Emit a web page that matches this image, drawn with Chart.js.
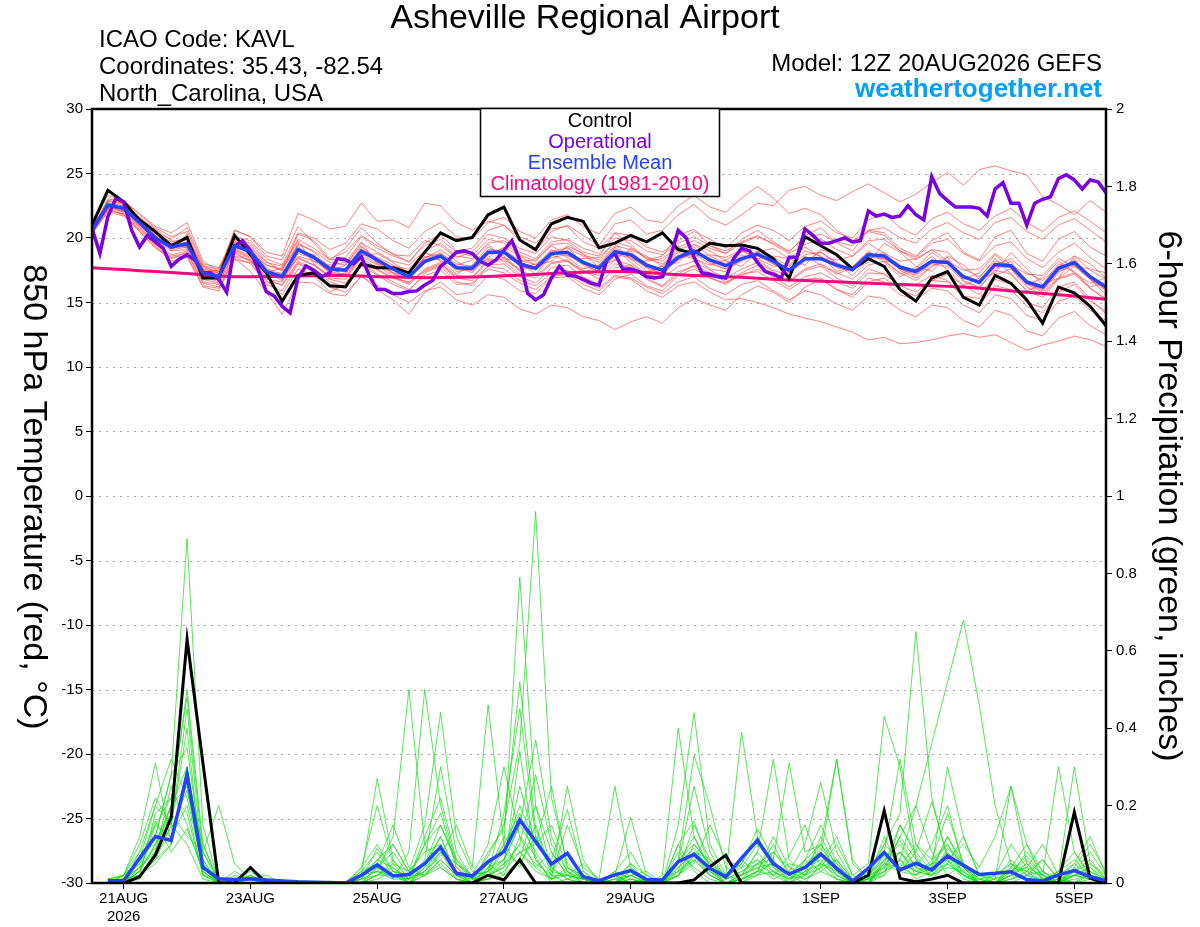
<!DOCTYPE html>
<html lang="en">
<head>
<meta charset="UTF-8">
<title>Asheville Regional Airport - GEFS 850 hPa Temperature</title>
<script src="https://cdn.jsdelivr.net/npm/chart.js"></script>
<style>
    html, body { margin: 0; padding: 0; background: #ffffff; }
    #wrap { width: 1200px; height: 927px; }
</style>
</head>
<body>
<div id="wrap"><canvas id="gefsChart" width="1200" height="927"></canvas></div>
<script>
// forecast hours after 12Z 20AUG2026 (6-hourly ensemble, 3-hourly operational)
var stepHours = [];
for (var h = 0; h <= 384; h += 6) stepHours.push(h);
var precipHours = stepHours.slice(1);
var opHours = [];
for (var k = 0; k <= 384; k += 3) opHours.push(k);

var dateTicks = [12, 60, 108, 156, 204, 276, 324, 372];
var dateLabels = [['21AUG', '2026'], '23AUG', '25AUG', '27AUG', '29AUG', '1SEP', '3SEP', '5SEP'];
var tempTicks = [-30, -25, -20, -15, -10, -5, 0, 5, 10, 15, 20, 25, 30];
var gridTemps = [-25, -20, -15, -10, -5, 0, 5, 10, 15, 20, 25];
var precipTicks = [0, 0.2, 0.4, 0.6, 0.8, 1, 1.2, 1.4, 1.6, 1.8, 2];
var precipLabels = ['0', '0.2', '0.4', '0.6', '0.8', '1', '1.2', '1.4', '1.6', '1.8', '2'];

// 850 hPa temperature (C)
var tControl = [21.0,23.7,22.8,21.4,20.5,19.4,20.05,16.9,16.9,20.2,
    18.7,17.3,15.1,17.1,17.3,16.3,16.2,18.0,17.7,17.7,
    17.3,18.9,20.4,19.8,20.05,21.8,22.4,19.85,19.1,21.1,
    21.6,21.3,19.25,19.6,20.2,19.7,20.4,19.1,18.8,19.6,
    19.4,19.45,19.2,18.4,16.9,20.1,19.4,18.7,17.6,18.4,
    17.8,16.0,15.1,16.9,17.4,15.4,14.8,17.1,16.5,15.2,
    13.4,16.2,15.75,14.7,13.2];
var tMean = [20.6,22.55,22.3,21.2,20.0,19.3,19.55,17.3,17.0,19.4,
    18.95,17.4,17.0,19.1,18.5,17.6,17.5,19.0,18.3,17.6,
    17.0,18.2,18.6,17.7,17.65,18.9,18.9,18.0,17.65,18.8,
    18.9,18.1,17.65,18.95,18.7,17.9,17.5,18.5,19.0,18.3,
    17.85,18.4,18.75,18.2,17.5,18.4,18.4,17.9,17.55,18.7,
    18.6,17.75,17.4,18.2,18.1,17.0,16.55,17.95,17.85,16.6,
    16.2,17.65,18.1,17.0,16.2];
var tClimo = [17.7,17.62,17.55,17.47,17.4,17.33,17.25,17.15,17.05,17.0,
    17.0,17.02,17.04,17.05,17.07,17.1,17.1,17.05,17.0,16.97,
    16.95,16.92,16.93,16.95,16.98,17.02,17.07,17.12,17.18,17.25,
    17.3,17.35,17.38,17.4,17.38,17.32,17.22,17.15,17.1,17.05,
    17.0,16.95,16.88,16.8,16.75,16.7,16.65,16.6,16.55,16.5,
    16.45,16.4,16.35,16.3,16.25,16.2,16.1,16.0,15.9,15.8,
    15.7,15.6,15.5,15.37,15.25];
var tOper = [20.75,18.8,21.65,23.05,22.8,20.6,19.3,20.2,19.7,19.2,
    17.8,18.35,18.7,18.3,17.3,17.3,16.8,15.8,19.35,19.8,
    19.0,17.5,15.85,15.5,14.7,14.2,16.9,17.85,17.5,17.0,
    17.3,18.4,18.3,18.0,18.55,17.1,16.0,16.0,15.7,15.7,
    15.85,15.9,16.35,16.7,17.8,18.3,18.9,19.0,18.8,18.2,
    17.9,18.3,19.05,19.8,18.3,15.7,15.2,15.6,16.9,17.8,
    17.1,17.05,16.8,16.5,16.35,18.3,18.8,17.6,17.6,17.4,
    17.0,16.9,17.0,18.5,20.6,20.0,18.5,17.3,17.2,17.0,
    16.9,18.4,19.2,19.0,18.1,17.4,17.2,16.9,18.5,18.5,
    20.7,20.2,19.6,19.6,19.8,20.0,19.7,19.8,22.1,21.7,
    21.85,21.6,21.7,22.5,21.8,21.4,24.75,23.45,22.9,22.4,
    22.4,22.4,22.3,21.7,23.8,24.3,22.7,22.7,21.0,22.7,
    23.0,23.2,24.6,24.9,24.5,23.8,24.5,24.35,23.5];

// ensemble members, temperature
var t01 = [20.4,22.9,22.6,21.5,20.6,19.0,20.3,17.6,16.8,19.9,19.6,18.2,17.4,20.3,19.8,18.4,18.9,20.2,19.4,18.8,18.1,19.6,20.3,19.0,19.2,20.6,21.0,19.8,19.0,20.5,21.0,20.2,19.4,21.1,21.4,20.3,20.6,21.8,22.6,21.5,21.0,21.8,22.7,22.5,23.7,24.0,23.3,22.9,23.6,24.2,23.5,22.8,23.4,24.3,25.1,24.1,25.3,25.6,25.2,24.9,23.2,22.6,21.8,22.9,22.0];
var t02 = [20.9,22.2,21.8,20.6,19.5,18.6,18.8,16.5,16.2,18.5,18.0,16.6,16.4,18.2,17.6,16.8,16.5,18.1,17.2,16.6,16.0,17.1,17.5,16.4,16.5,17.6,17.3,16.5,16.0,17.0,17.2,16.4,15.9,17.0,16.8,15.9,15.4,16.3,16.6,15.8,15.2,15.3,15.0,14.6,14.1,13.8,13.5,13.1,12.7,12.1,12.3,11.8,11.9,12.1,12.4,12.6,12.3,12.5,11.9,11.3,11.7,12.0,12.4,12.1,11.6];
var t03 = [20.8,23.0,22.9,21.9,20.9,20.4,21.2,18.2,17.4,20.6,20.1,18.6,18.3,20.9,19.6,18.3,19.2,20.8,19.6,18.7,18.6,19.8,19.4,18.5,18.9,20.3,20.0,19.2,18.8,20.1,19.8,18.9,18.6,20.4,19.5,18.3,18.6,20.2,20.7,19.4,18.8,19.9,20.6,19.7,18.9,20.2,20.8,19.6,19.0,20.6,20.4,19.2,18.6,19.8,20.4,18.9,18.3,20.1,20.6,18.8,18.2,19.9,20.5,19.3,18.6];
var t04 = [20.3,22.0,21.7,20.5,19.2,18.5,18.6,16.3,16.1,18.3,18.1,16.4,15.9,18.0,17.5,16.6,16.2,17.9,17.1,16.4,15.9,17.3,17.8,16.6,16.3,17.9,18.0,17.0,16.5,17.7,17.9,17.0,16.4,17.7,17.9,16.8,16.2,17.2,17.9,17.3,16.6,17.1,17.6,17.0,16.2,17.0,17.3,16.6,16.1,17.3,17.2,16.3,15.8,16.7,16.6,15.4,14.8,16.3,16.0,14.7,14.2,15.8,16.4,15.1,14.3];
var t05 = [20.5,22.4,22.0,20.8,19.6,18.7,19.0,17.0,16.6,18.8,18.2,16.9,16.3,18.1,17.3,16.2,15.8,17.0,16.3,15.6,15.0,15.9,16.2,15.2,14.8,15.6,15.4,14.5,14.1,14.8,14.6,13.9,13.6,12.9,13.5,13.9,13.4,14.6,15.3,14.8,14.4,15.6,16.3,15.8,15.0,16.2,16.8,16.0,15.4,16.6,16.9,16.0,15.5,16.7,17.2,16.3,15.6,17.1,17.6,16.2,15.6,16.9,17.8,16.8,15.9];
var t06 = [20.7,22.7,22.5,21.6,20.4,19.9,20.8,18.0,17.7,20.1,19.8,18.4,17.9,20.4,20.0,19.1,19.6,21.1,20.7,19.8,19.2,20.5,21.2,20.1,19.9,21.2,21.6,20.5,20.0,21.4,21.8,20.9,20.3,21.9,22.4,21.4,21.2,22.5,23.3,22.4,22.0,23.1,24.0,23.1,21.9,22.3,21.8,20.6,19.8,20.5,20.2,19.0,18.3,19.1,18.9,17.6,17.0,18.2,17.9,16.4,15.8,16.9,17.3,16.1,15.2];
var t07 = [20.6,22.6,22.1,21.0,19.8,19.3,19.9,17.6,17.3,19.1,18.5,17.0,16.9,19.6,18.9,17.7,17.0,18.6,18.8,18.1,17.3,18.4,19.1,18.2,17.4,18.5,19.3,18.6,17.9,18.2,19.4,18.8,17.7,18.3,19.2,18.6,17.8,18.1,19.5,19.0,18.2,17.8,18.9,19.2,18.4,17.9,19.1,18.7,17.6,18.1,19.6,18.9,17.8,17.4,18.6,17.9,16.8,17.3,18.9,17.6,16.4,16.9,18.6,18.0,16.9];
var t08 = [20.5,22.3,22.4,21.3,20.2,19.1,19.3,17.1,16.9,19.6,19.2,17.7,16.8,18.6,18.2,17.4,17.9,19.4,18.1,17.3,16.9,18.6,18.3,17.2,17.9,19.3,18.6,17.5,17.8,19.1,18.5,17.6,17.9,19.2,18.1,17.2,17.9,18.9,18.5,17.6,17.4,18.7,18.3,17.5,17.1,18.6,17.9,17.2,17.7,19.0,18.1,17.0,17.6,18.6,17.5,16.3,16.9,18.4,17.2,15.9,16.4,18.0,17.4,16.2,16.6];
var t09 = [20.7,22.8,22.2,21.1,19.9,19.6,19.2,17.4,17.5,19.8,18.8,17.9,17.6,19.4,18.2,17.9,18.1,19.7,18.0,17.8,17.6,18.9,18.2,17.9,18.3,19.5,18.4,18.2,18.3,19.4,18.6,18.4,18.5,19.6,18.3,18.2,18.4,19.3,18.6,18.7,18.5,19.1,18.4,18.6,18.4,19.3,18.5,18.3,18.6,19.6,18.8,18.2,18.4,19.1,18.2,17.5,17.6,18.8,17.9,17.2,17.1,18.4,17.8,17.6,17.3];
var t10 = [20.4,22.1,21.9,20.7,19.4,18.4,18.9,16.6,16.4,18.6,18.3,16.7,15.6,17.6,17.1,15.8,16.4,17.8,17.6,16.9,16.4,17.5,18.0,17.1,16.9,18.2,18.5,17.4,17.1,18.1,18.3,17.4,17.1,18.3,17.9,17.2,16.9,17.8,18.2,17.5,16.9,17.6,18.1,17.4,16.6,17.5,17.8,16.9,16.3,17.6,17.2,16.3,16.4,17.1,16.7,15.5,15.3,16.8,16.4,15.0,14.6,16.2,16.6,15.3,14.1];
var t11 = [21.0,23.3,22.9,21.8,20.8,20.1,20.5,17.9,17.2,20.6,20.1,18.9,18.6,21.9,21.4,20.7,20.9,22.7,21.3,21.4,20.8,22.7,22.5,21.2,20.6,21.3,21.0,20.1,19.6,20.7,20.9,19.7,19.2,20.4,20.2,19.3,18.9,19.8,20.5,19.9,19.2,20.4,21.0,20.6,19.8,20.9,21.3,20.4,20.0,21.4,21.9,20.8,20.2,21.5,22.0,21.1,20.6,21.7,22.3,21.2,20.5,21.6,22.1,21.3,20.4];
var t12 = [20.6,22.5,22.0,20.9,19.7,19.5,19.4,17.2,16.9,19.2,18.6,17.2,17.3,19.0,18.7,17.2,17.6,19.3,18.4,17.3,17.2,18.0,18.9,17.8,17.3,18.7,19.2,18.1,17.2,18.6,19.3,18.0,17.4,18.6,19.0,17.7,17.2,18.4,19.3,18.1,17.6,18.2,19.0,18.0,17.3,18.2,18.9,18.0,17.1,18.4,18.9,17.5,16.9,17.8,18.5,16.6,16.1,17.6,18.2,16.5,15.9,17.3,18.4,16.8,15.6];
var t13 = [20.8,22.4,22.1,21.2,20.1,19.2,19.6,17.5,17.1,19.5,18.7,17.5,17.0,18.4,17.9,17.1,17.0,18.2,17.5,16.9,16.6,17.4,17.9,16.9,16.7,17.8,17.6,16.7,16.3,17.3,17.5,16.6,16.1,17.1,16.9,16.2,15.7,16.6,17.0,16.1,15.6,16.4,16.7,15.9,15.2,15.9,15.6,14.9,14.4,15.5,15.3,14.4,13.9,14.8,14.6,13.6,13.1,14.4,14.0,12.8,12.4,13.8,14.3,13.2,12.5];
var t14 = [20.5,22.6,22.5,21.4,20.3,19.7,20.0,17.8,17.6,19.9,19.3,17.9,17.5,19.5,19.0,18.1,17.9,19.6,18.9,18.2,17.9,19.0,19.6,18.6,18.4,19.6,19.8,18.9,18.4,19.7,19.9,19.2,18.8,20.0,19.8,19.0,18.7,19.6,20.1,19.4,19.0,19.7,20.2,19.5,18.8,19.5,19.9,19.1,18.6,19.8,19.9,19.0,18.5,19.6,19.9,18.8,18.2,19.4,19.7,18.4,17.7,18.9,19.6,18.5,17.6];
var t15 = [20.9,22.7,22.2,21.0,19.9,19.0,19.1,16.8,16.5,19.0,18.4,16.8,16.6,18.5,17.9,16.9,16.8,18.6,17.9,17.0,16.5,17.6,18.1,16.9,17.0,18.3,18.2,17.2,16.9,18.0,18.2,17.5,16.8,18.0,17.7,16.9,16.3,17.4,17.8,16.9,16.4,17.2,17.4,16.7,16.0,16.8,16.9,16.0,15.6,16.9,16.6,15.6,15.2,16.1,15.9,14.8,14.2,15.6,15.3,14.0,13.6,15.1,15.5,14.4,13.6];
var t16 = [20.6,22.4,22.3,21.1,20.0,19.4,19.7,17.3,17.2,19.5,19.1,17.6,17.2,19.2,18.6,17.8,17.6,19.1,18.5,17.9,17.3,18.5,18.8,18.0,17.8,19.1,19.0,18.3,17.9,19.0,19.2,18.6,18.1,19.4,19.1,18.5,18.2,19.3,19.8,19.2,18.8,19.6,20.1,19.6,19.0,20.0,20.3,19.7,19.4,20.6,20.8,20.0,19.6,20.7,21.2,20.4,19.9,21.2,21.6,20.5,19.9,21.0,21.5,20.6,19.7];
var t17 = [20.4,22.2,22.4,21.6,20.7,19.8,19.3,17.1,17.0,18.9,18.2,17.3,17.7,19.8,18.0,17.0,17.3,18.4,17.7,17.5,17.4,18.8,18.6,17.4,17.6,18.4,18.3,17.6,18.0,18.7,18.2,17.3,17.9,19.3,18.4,17.4,17.8,18.7,18.4,17.9,18.3,19.0,18.4,17.8,17.9,19.0,18.6,17.4,17.8,18.9,18.3,17.2,17.7,18.9,18.0,16.8,17.3,18.7,17.6,16.4,16.9,18.2,17.3,16.5,16.9];
var t18 = [20.3,22.3,21.8,20.5,19.3,18.2,18.5,16.2,15.9,18.4,17.4,15.8,14.1,16.6,16.5,15.7,15.5,17.1,16.0,15.2,14.1,15.8,16.6,15.6,15.8,17.1,16.8,15.9,15.7,16.9,17.0,16.1,15.6,16.8,17.2,16.3,15.9,17.1,17.6,16.9,16.5,17.3,17.9,17.2,16.7,17.6,18.0,17.3,16.8,17.9,18.2,17.3,16.7,17.8,18.3,17.1,16.6,17.9,18.4,17.3,16.7,17.8,18.6,17.5,16.8];
var t19 = [20.7,22.9,22.7,21.5,20.2,19.5,19.9,17.7,17.4,19.7,19.4,18.1,17.8,19.9,19.2,18.3,18.5,20.1,19.2,18.6,18.2,19.4,19.9,18.9,18.6,19.9,19.6,18.7,18.2,19.5,19.6,18.7,18.3,19.7,19.3,18.4,18.0,19.1,19.5,18.6,18.0,18.9,19.3,18.5,17.8,18.7,18.9,18.1,17.5,18.8,18.5,17.6,17.1,18.0,17.8,16.7,16.2,17.5,17.2,15.9,15.4,16.8,17.2,16.1,15.3];
var t20 = [20.5,22.5,22.2,21.3,20.1,19.2,19.4,17.2,16.7,19.3,18.9,17.3,16.7,18.8,18.4,17.3,17.2,18.8,18.0,17.2,16.8,18.1,18.5,17.6,17.5,18.8,18.8,17.8,17.5,18.5,18.7,17.9,17.4,18.7,18.5,17.7,17.3,18.3,18.8,18.0,17.6,18.3,18.6,18.0,17.4,18.3,18.4,17.7,17.4,18.5,18.4,17.6,17.2,18.1,18.0,17.0,16.5,17.8,17.7,16.5,16.0,17.4,17.9,16.8,16.0];
var tempMembers = [t01, t02, t03, t04, t05, t06, t07, t08, t09, t10,
    t11, t12, t13, t14, t15, t16, t17, t18, t19, t20];

// 6-hour precipitation (inches), valid hour 6 onward
var pControl = [0,0,0.016,0.072,0.17,0.63,0.31,0,
    0,0.04,0,0,0,0,0,0,
    0,0,0,0,0,0,0,0,
    0.02,0.008,0.06,0,0,0,0,0,
    0,0,0,0,0,0.008,0.042,0.072,
    0,0,0,0,0,0,0,0,
    0.02,0.187,0.012,0.003,0.01,0.02,0,0,
    0,0,0,0,0,0.183,0.012,0];
var pMean = [0.006,0.006,0.064,0.12,0.11,0.28,0.04,0.011,
    0.009,0.011,0.008,0.005,0.003,0.002,0.001,0,
    0.02,0.047,0.018,0.022,0.05,0.092,0.025,0.018,
    0.055,0.081,0.163,0.107,0.049,0.077,0.016,0.006,
    0.021,0.032,0.009,0.008,0.055,0.074,0.038,0.016,
    0.064,0.11,0.05,0.023,0.04,0.075,0.038,0.005,
    0.038,0.079,0.034,0.051,0.034,0.07,0.046,0.022,
    0.025,0.029,0.009,0.005,0.021,0.032,0.016,0.006];

var p01 = [0,0.01,0.05,0.12,0.28,0.89,0.15,0, 0,0.02,0,0,0,0,0,0, 0.03,0.08,0.02,0,0.05,0.12,0.02,0, 0.04,0.1,0.18,0.06,0.01,0.03,0,0, 0,0.02,0,0,0.05,0.12,0.04,0, 0.02,0.08,0.03,0,0.06,0.1,0.03,0, 0,0.06,0.11,0.04,0.02,0.09,0.05,0, 0,0.03,0.07,0.02,0,0.04,0.01,0];
var p02 = [0,0,0.08,0.2,0.15,0.45,0.05,0, 0,0,0,0,0,0,0,0, 0,0.02,0.06,0.01,0.1,0.18,0.04,0.01, 0.07,0.15,0.36,0.96,0.22,0.05,0.01,0, 0,0,0,0,0.08,0.04,0.01,0, 0,0.03,0.1,0.02,0,0.05,0.12,0.02, 0,0.02,0.15,0.07,0.01,0.05,0.12,0.02, 0,0,0.02,0.06,0.01,0,0.02,0];
var p03 = [0.01,0.02,0.12,0.31,0.1,0.3,0.03,0, 0.03,0.01,0,0,0,0,0,0, 0.01,0.05,0.15,0.04,0.02,0.08,0.01,0, 0.02,0.1,0.79,0.2,0.03,0.08,0.02,0, 0.03,0.01,0,0,0.02,0.1,0.05,0.01, 0.05,0.14,0.06,0,0.02,0.07,0.02,0, 0.01,0.12,0.03,0.08,0.21,0.07,0.02,0, 0.02,0.1,0.04,0,0.03,0.08,0.02,0];
var p04 = [0,0.01,0.02,0.18,0.22,0.48,0.08,0.01, 0,0,0,0,0,0,0,0, 0.04,0.2,0.05,0,0.02,0.06,0.02,0, 0.05,0.02,0.12,0.07,0,0.01,0.03,0, 0,0.03,0.01,0,0.1,0.03,0,0, 0.01,0.05,0.02,0.07,0.15,0.04,0.01,0, 0.03,0.1,0.18,0.65,0.22,0.06,0.01,0, 0,0.02,0.05,0.01,0,0.03,0.06,0.01];
var p05 = [0,0,0.03,0.1,0.2,0.25,0.04,0, 0,0.01,0,0,0,0,0,0, 0.02,0.03,0.01,0.08,0.5,0.2,0.05,0.01, 0.01,0.05,0.08,0.03,0.01,0.04,0.02,0, 0.01,0,0,0,0.04,0.08,0.02,0, 0,0.02,0.06,0.01,0.03,0.09,0.04,0.01, 0,0.04,0.12,0.2,0.36,0.52,0.68,0.46, 0.2,0.05,0.01,0,0.02,0.05,0.02,0];
var p06 = [0,0.02,0.06,0.15,0.12,0.2,0.02,0, 0,0.04,0.01,0,0,0,0,0, 0,0.04,0.1,0.03,0.15,0.44,0.12,0.03, 0.02,0.06,0.15,0.08,0.02,0,0,0, 0,0.05,0.02,0,0.15,0.44,0.1,0.02, 0.04,0.06,0.03,0.01,0.05,0.08,0.02,0, 0,0.03,0.08,0.02,0.05,0.1,0.02,0, 0,0.04,0.1,0.03,0,0.02,0.04,0];
var p07 = [0.01,0.01,0.04,0.08,0.25,0.15,0.03,0, 0,0,0,0,0,0,0,0, 0.01,0.03,0.12,0.5,0.1,0.04,0.01,0, 0.03,0.08,0.05,0.12,0.04,0.01,0,0, 0.02,0,0,0,0.02,0.06,0.02,0, 0.02,0.04,0.01,0.03,0.1,0.26,0.08,0.01, 0.01,0.05,0.03,0.02,0.04,0.12,0.05,0, 0,0.01,0.03,0.06,0.01,0,0.01,0];
var p08 = [0,0,0.02,0.05,0.1,0.3,0.06,0, 0.02,0.01,0,0,0,0,0,0, 0.02,0.06,0.04,0.01,0.03,0.07,0.15,0.04, 0.46,0.1,0.04,0.15,0.03,0.02,0.01,0, 0,0.01,0,0.02,0.4,0.12,0.03,0, 0.01,0.03,0.05,0.02,0.04,0.07,0.32,0.05, 0.01,0.03,0.06,0.01,0.03,0.08,0.03,0, 0.01,0.06,0.02,0,0.02,0.3,0.05,0.01];
var p09 = [0,0.01,0.06,0.2,0.32,0.22,0.04,0, 0,0,0.01,0,0,0,0,0, 0,0.02,0.05,0.03,0.08,0.1,0.03,0, 0.08,0.14,0.52,0.14,0.02,0.02,0.05,0.01, 0,0.02,0,0,0.03,0.15,0.06,0.01, 0.06,0.02,0.08,0.03,0.01,0.04,0.1,0.02, 0.05,0.43,0.3,0.06,0.02,0.04,0.03,0, 0,0.02,0.05,0.01,0,0.03,0.08,0.02];
var p10 = [0,0,0.04,0.12,0.28,0.35,0.05,0, 0.01,0.03,0,0,0,0,0,0, 0.01,0.09,0.03,0,0.04,0.08,0.05,0.02, 0.03,0.06,0.15,0.37,0.12,0.03,0,0, 0.02,0,0.01,0,0.06,0.1,0.05,0.02, 0.39,0.12,0.04,0.01,0.02,0.05,0.03,0, 0.02,0.07,0.04,0.1,0.06,0.18,0.05,0.01, 0,0.03,0.04,0.02,0,0.02,0.01,0];
var p11 = [0,0.01,0.03,0.15,0.22,0.18,0.02,0.01, 0,0.02,0,0,0,0,0,0, 0.03,0.05,0.02,0.01,0.06,0.3,0.08,0.01, 0.02,0.04,0.34,0.06,0.01,0.02,0.01,0, 0,0.04,0.01,0,0.06,0.33,0.2,0.04, 0.02,0.08,0.32,0.06,0.02,0.12,0.04,0, 0,0.05,0.04,0.02,0.06,0.1,0.04,0.01, 0.02,0.05,0.03,0,0.01,0.05,0.12,0.02];
var p12 = [0,0,0.01,0.08,0.12,0.26,0.1,0.01, 0,0.01,0,0,0,0,0,0, 0,0.04,0.08,0.02,0.02,0.05,0.01,0, 0.01,0.03,0.08,0.1,0.25,0.04,0.01,0, 0,0.03,0,0,0.02,0.07,0.04,0.01, 0.03,0.05,0.06,0.31,0.08,0.1,0.32,0.06, 0.01,0.04,0.08,0.03,0.05,0.06,0.02,0, 0,0.01,0.02,0.03,0.01,0.02,0.04,0.01];
var p13 = [0,0.01,0.02,0.06,0.15,0.4,0.02,0, 0,0,0,0,0,0,0,0, 0.02,0.27,0.06,0.01,0.03,0.08,0.04,0, 0.02,0.05,0.1,0.05,0.02,0.15,0.04,0.01, 0.25,0.04,0,0.01,0.03,0.06,0.02,0, 0.01,0.03,0.02,0.05,0.04,0.06,0.01,0, 0,0.08,0.32,0.1,0.04,0.3,0.12,0.02, 0.01,0.25,0.1,0.01,0.03,0.06,0.02,0];
var p14 = [0.01,0.02,0.08,0.1,0.18,0.12,0.08,0.2, 0.05,0.01,0.02,0,0,0,0,0, 0.01,0.02,0.04,0,0.02,0.06,0.02,0.01, 0.03,0.12,0.08,0.04,0.01,0.25,0.06,0, 0.01,0.02,0.03,0,0.04,0.08,0.03,0, 0.02,0.04,0.05,0.02,0.01,0.03,0.06,0.01, 0.01,0.02,0.06,0.2,0.08,0.02,0.05,0.01, 0,0.04,0.03,0.02,0.3,0.08,0.02,0.01];
var p15 = [0,0,0.03,0.1,0.2,0.5,0.1,0, 0,0.02,0,0.01,0,0,0,0, 0.04,0.1,0.03,0.02,0.05,0.15,0.06,0.01, 0.05,0.08,0.2,0.1,0.06,0.19,0.03,0, 0.02,0.17,0.02,0,0.05,0.09,0.03,0.01, 0.03,0.06,0.02,0,0.03,0.05,0.02,0, 0.02,0.04,0.12,0.06,0.03,0.07,0.03,0, 0.01,0.03,0.06,0.02,0,0.04,0.1,0.03];
var p16 = [0,0.02,0.05,0.16,0.08,0.14,0.03,0, 0,0,0,0,0,0,0,0, 0,0.01,0.03,0.02,0.1,0.15,0.05,0.02, 0.1,0.3,0.12,0.04,0.08,0.02,0,0, 0.03,0.08,0.01,0,0.02,0.08,0.06,0.02, 0.05,0.12,0.04,0.02,0.06,0.03,0.01,0, 0,0.06,0.1,0.04,0.1,0.2,0.04,0, 0,0.02,0.08,0.03,0,0.01,0.02,0];
var p17 = [0,0.01,0.04,0.09,0.14,0.24,0.04,0, 0,0.01,0,0,0,0,0,0, 0.02,0.03,0.02,0,0.03,0.1,0.03,0, 0.04,0.06,0.25,0.1,0.15,0.04,0.01,0, 0,0.01,0,0,0.05,0.25,0.08,0.01, 0.02,0.05,0.08,0.04,0.02,0.08,0.03,0, 0.01,0.03,0.05,0.03,0.02,0.06,0.1,0.04, 0.12,0.25,0.05,0.01,0,0.02,0.03,0];
var p18 = [0.01,0,0.02,0.06,0.1,0.28,0.08,0, 0,0,0,0,0,0,0,0, 0,0.02,0.02,0.01,0.04,0.12,0.02,0, 0.02,0.04,0.1,0.28,0.1,0.03,0.01,0, 0,0.02,0,0,0.1,0.16,0.04,0, 0.01,0.03,0.12,0.04,0.02,0.04,0.06,0.01, 0,0.05,0.15,0.08,0.03,0.12,0.04,0, 0,0.02,0.01,0,0.01,0.03,0.05,0.02];
var p19 = [0,0.01,0.02,0.08,0.2,0.3,0.06,0, 0,0.01,0,0,0,0,0,0, 0.01,0.06,0.1,0.03,0.02,0.04,0.01,0, 0.01,0.02,0.06,0.2,0.08,0.02,0.01,0, 0,0,0.01,0,0.02,0.05,0.15,0.06, 0.04,0.1,0.05,0.02,0.06,0.15,0.05,0, 0.01,0.1,0.06,0.03,0.02,0.05,0.02,0, 0,0.05,0.02,0.01,0,0.02,0.01,0];
var p20 = [0,0.02,0.1,0.22,0.15,0.1,0.01,0, 0,0.01,0,0,0,0,0,0, 0.02,0.04,0.01,0.01,0.12,0.22,0.06,0.02, 0.03,0.18,0.45,0.12,0.04,0.01,0,0, 0.01,0.05,0,0,0.03,0.07,0.02,0, 0.01,0.02,0.03,0.01,0.04,0.1,0.05,0.01, 0.02,0.06,0.08,0.04,0.03,0.05,0.02,0.01, 0,0.02,0.04,0.1,0.02,0,0.03,0.01];
var precipMembers = [p01, p02, p03, p04, p05, p06, p07, p08, p09, p10,
    p11, p12, p13, p14, p15, p16, p17, p18, p19, p20];

var FONT = "'Liberation Sans', Arial, Helvetica, sans-serif";

function toPoints(hours, vals) {
    return vals.map(function (v, i) { return { x: hours[i], y: v }; });
}

var datasets = [];
// thick lines first in the list = drawn on top (lower order)
datasets.push({ data: toPoints(precipHours, pMean), borderColor: '#2442ff', borderWidth: 3.5, yAxisID: 'y2', order: 1 });
datasets.push({ data: toPoints(stepHours, tMean), borderColor: '#2442ff', borderWidth: 3.5, yAxisID: 'y', order: 1 });
datasets.push({ data: toPoints(opHours, tOper), borderColor: '#7a00dc', borderWidth: 3.5, yAxisID: 'y', order: 2 });
datasets.push({ data: toPoints(precipHours, pControl), borderColor: '#000000', borderWidth: 3, yAxisID: 'y2', order: 3 });
datasets.push({ data: toPoints(stepHours, tControl), borderColor: '#000000', borderWidth: 3, yAxisID: 'y', order: 3 });
datasets.push({ data: toPoints(stepHours, tClimo), borderColor: '#f5087c', borderWidth: 3, yAxisID: 'y', order: 4 });
tempMembers.forEach(function (m) {
    datasets.push({ data: toPoints(stepHours, m), borderColor: 'rgba(255,70,70,0.85)', borderWidth: 0.8, yAxisID: 'y', order: 5 });
});
precipMembers.forEach(function (m) {
    datasets.push({ data: toPoints(precipHours, m), borderColor: 'rgba(20,220,20,0.9)', borderWidth: 0.8, yAxisID: 'y2', order: 6 });
});

// dotted temperature grid behind the lines
var backdrop = {
    id: 'backdrop',
    beforeDatasetsDraw: function (chart) {
        var ctx = chart.ctx, area = chart.chartArea, ys = chart.scales.y;
        ctx.save();
        ctx.strokeStyle = '#a8a8a8';
        ctx.lineWidth = 1;
        ctx.setLineDash([2, 5]);
        gridTemps.forEach(function (v) {
            var py = Math.round(ys.getPixelForValue(v)) + 0.5;
            ctx.beginPath();
            ctx.moveTo(area.left, py);
            ctx.lineTo(area.right, py);
            ctx.stroke();
        });
        ctx.restore();
    }
};

// frame, legend box, headers and axis titles
var decorations = {
    id: 'decorations',
    afterDraw: function (chart) {
        var ctx = chart.ctx, a = chart.chartArea;
        ctx.save();
        ctx.strokeStyle = '#000';
        ctx.lineWidth = 2.5;
        ctx.strokeRect(a.left, a.top, a.right - a.left, a.bottom - a.top);

        // legend
        ctx.fillStyle = '#fff';
        ctx.fillRect(480, 108, 240, 89);
        ctx.lineWidth = 1.5;
        ctx.strokeRect(480.5, 108.5, 239, 88);
        ctx.font = '20px ' + FONT;
        ctx.textAlign = 'center';
        ctx.textBaseline = 'middle';
        var legendRows = [['Control', '#000000'], ['Operational', '#7a00dc'],
                          ['Ensemble Mean', '#2442ff'], ['Climatology (1981-2010)', '#f5087c']];
        legendRows.forEach(function (r, i) {
            ctx.fillStyle = r[1];
            ctx.fillText(r[0], 600, 121 + i * 21.3);
        });

        // headers
        ctx.fillStyle = '#000';
        ctx.font = '34px ' + FONT;
        ctx.fillText('Asheville Regional Airport', 585, 19);
        ctx.font = '24px ' + FONT;
        ctx.textAlign = 'left';
        ctx.fillText('ICAO Code: KAVL', 99, 40);
        ctx.fillText('Coordinates: 35.43, -82.54', 99, 67);
        ctx.fillText('North_Carolina, USA', 99, 94);
        ctx.textAlign = 'right';
        ctx.fillText('Model: 12Z 20AUG2026 GEFS', 1102, 64);
        ctx.font = 'bold 26px ' + FONT;
        ctx.fillStyle = '#05a0f2';
        ctx.fillText('weathertogether.net', 1102, 90);

        // axis titles, both read top to bottom
        ctx.fillStyle = '#000';
        ctx.font = '34px ' + FONT;
        ctx.textAlign = 'center';
        ctx.save();
        ctx.translate(33, 497);
        ctx.rotate(Math.PI / 2);
        ctx.fillText('850 hPa Temperature (red, \u00B0C)', 0, 0);
        ctx.restore();
        ctx.save();
        ctx.translate(1168, 496);
        ctx.rotate(Math.PI / 2);
        ctx.fillText('6-hour Precipitation (green, inches)', 0, 0);
        ctx.restore();
        ctx.restore();
    }
};

var tickFont = { family: FONT, size: 15 };

new Chart(document.getElementById('gefsChart').getContext('2d'), {
    type: 'line',
    data: { datasets: datasets },
    options: {
        responsive: false,
        animation: false,
        devicePixelRatio: 1,
        layout: { padding: { top: 109, left: 0, right: 0, bottom: 0 } },
        elements: { point: { radius: 0 }, line: { tension: 0 } },
        plugins: { legend: { display: false }, tooltip: { enabled: false } },
        scales: {
            x: {
                type: 'linear', min: 0, max: 384,
                afterBuildTicks: function (s) { s.ticks = dateTicks.map(function (v) { return { value: v }; }); },
                afterFit: function (s) { s.height = 44; },
                grid: { drawOnChartArea: false, drawTicks: true, tickLength: 6, tickColor: '#000', tickWidth: 1 },
                border: { display: false },
                ticks: {
                    color: '#000', font: tickFont, maxRotation: 0, minRotation: 0, autoSkip: false, padding: 1,
                    callback: function (v) { return dateLabels[dateTicks.indexOf(v)]; }
                }
            },
            y: {
                position: 'left', min: -30, max: 30,
                afterBuildTicks: function (s) { s.ticks = tempTicks.map(function (v) { return { value: v }; }); },
                afterFit: function (s) { s.width = 92; },
                grid: { drawOnChartArea: false, drawTicks: true, tickLength: 6, tickColor: '#000', tickWidth: 1 },
                border: { display: false },
                ticks: { color: '#000', font: tickFont, padding: 3 }
            },
            y2: {
                position: 'right', min: 0, max: 2,
                afterBuildTicks: function (s) { s.ticks = precipTicks.map(function (v) { return { value: v }; }); },
                afterFit: function (s) { s.width = 94; },
                grid: { drawOnChartArea: false, drawTicks: true, tickLength: 6, tickColor: '#000', tickWidth: 1 },
                border: { display: false },
                ticks: {
                    color: '#000', font: tickFont, padding: 4,
                    callback: function (v) { return precipLabels[precipTicks.indexOf(v)]; }
                }
            }
        }
    },
    plugins: [backdrop, decorations]
});
</script>
</body>
</html>
